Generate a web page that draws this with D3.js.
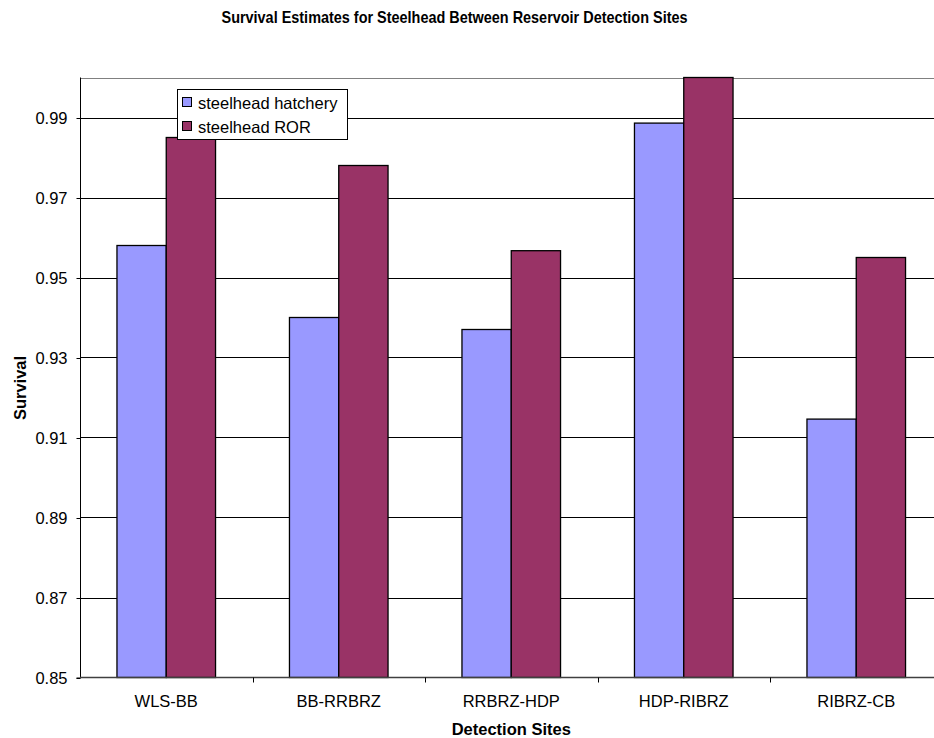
<!DOCTYPE html>
<html>
<head>
<meta charset="utf-8">
<script src="https://cdn.jsdelivr.net/npm/d3@7"></script>
<style>
  html, body { margin: 0; padding: 0; background: #fff; }
  svg { display: block; font-family: "Liberation Sans", Arial, sans-serif; }
</style>
</head>
<body>
<svg id="chart" width="934" height="738"></svg>
<script>
const categories = ["WLS-BB", "BB-RRBRZ", "RRBRZ-HDP", "HDP-RIBRZ", "RIBRZ-CB"];
const seriesNames = ["steelhead hatchery", "steelhead ROR"];
const hatchery = [0.958, 0.940, 0.937, 0.9886, 0.9146];
const ror = [0.985, 0.978, 0.9567, 1.000, 0.955];
const yTicks = [0.85, 0.87, 0.89, 0.91, 0.93, 0.95, 0.97, 0.99];
const colors = ["#9999FF", "#993366"];

(function () {
const svg = d3.select("#chart");
const pL = 80, pR = 942.5, pT = 77.5, pB = 677.5;
const FS = 16.5;

const x = d3.scaleBand().domain(categories).range([pL, pR]).paddingInner(0).paddingOuter(0);
const y = d3.scaleLinear().domain([0.85, 1.0]).range([pB, pT]);
const bw = x.bandwidth() / 3.5;
const xs = d3.scaleBand().domain(seriesNames).range([0, 2 * bw]);

// gridlines
const gridVals = yTicks.filter(v => v > 0.85).concat([1.0]);
svg.append("g").selectAll("line").data(gridVals).join("line")
  .attr("x1", pL).attr("x2", pR)
  .attr("y1", d => Math.round(y(d)) + 0.5).attr("y2", d => Math.round(y(d)) + 0.5)
  .attr("stroke", d => d === 1.0 ? "#808080" : "#000").attr("stroke-width", 1);

// bars
const data = [hatchery, ror];
const g = svg.append("g");
categories.forEach((c, i) => {
  seriesNames.forEach((s, j) => {
    const x0 = x(c) + (x.bandwidth() - 2 * bw) / 2 + xs(s);
    g.append("rect")
      .attr("x", x0).attr("y", y(data[j][i]))
      .attr("width", bw).attr("height", y(0.85) - y(data[j][i]))
      .attr("fill", colors[j]).attr("stroke", "#000").attr("stroke-width", 1.3);
  });
});

// y axis
const yAxis = d3.axisLeft(y).tickValues(yTicks).tickSize(4).tickPadding(9)
  .tickFormat(d3.format(".2f"));
const ya = svg.append("g").attr("transform", `translate(${pL + 0.5},0.5)`).call(yAxis);
ya.select(".domain").attr("stroke", "#000").attr("d", `M-4,${y(0.85)}H0V${pT - 0.5}`);
ya.selectAll("text").attr("font-size", FS).attr("fill", "#000")
  .attr("font-family", "Liberation Sans, Arial, sans-serif");

// x axis
const xa = svg.append("g").attr("transform", `translate(0,${pB})`);
xa.append("line").attr("x1", pL).attr("x2", pR).attr("y1", 0).attr("y2", 0)
  .attr("stroke", "#404040").attr("stroke-width", 1.5);
const bounds = categories.map(c => x(c)).slice(1);
xa.selectAll("line.tick").data(bounds).join("line").attr("class", "tick")
  .attr("x1", d => Math.round(d) + 0.5).attr("x2", d => Math.round(d) + 0.5)
  .attr("y1", 0).attr("y2", 5).attr("stroke", "#000");
xa.selectAll("text").data(categories).join("text")
  .attr("x", d => x(d) + x.bandwidth() / 2).attr("y", 29.5)
  .attr("text-anchor", "middle").attr("font-size", FS).attr("fill", "#000").text(d => d);

// titles
svg.append("text").attr("x", 454.5).attr("y", 23).attr("text-anchor", "middle")
  .attr("font-size", 17).attr("font-weight", "bold")
  .attr("textLength", 466).attr("lengthAdjust", "spacingAndGlyphs")
  .text("Survival Estimates for Steelhead Between Reservoir Detection Sites");
svg.append("text").attr("x", (pL + pR) / 2).attr("y", 735).attr("text-anchor", "middle")
  .attr("font-size", FS).attr("font-weight", "bold").text("Detection Sites");
svg.append("text").attr("transform", "translate(26,388) rotate(-90)").attr("text-anchor", "middle")
  .attr("font-size", FS).attr("font-weight", "bold").text("Survival");

// legend
const lg = svg.append("g").attr("transform", "translate(177.5,89.5)");
lg.append("rect").attr("width", 170).attr("height", 50).attr("fill", "#fff").attr("stroke", "#000");
seriesNames.forEach((s, j) => {
  const cy = 13 + j * 24;
  lg.append("rect").attr("x", 5).attr("y", cy - 5).attr("width", 9).attr("height", 9)
    .attr("fill", colors[j]).attr("stroke", "#000");
  lg.append("text").attr("x", 20.5).attr("y", cy + 6).attr("font-size", FS).text(s);
});
})();
</script>
</body>
</html>
